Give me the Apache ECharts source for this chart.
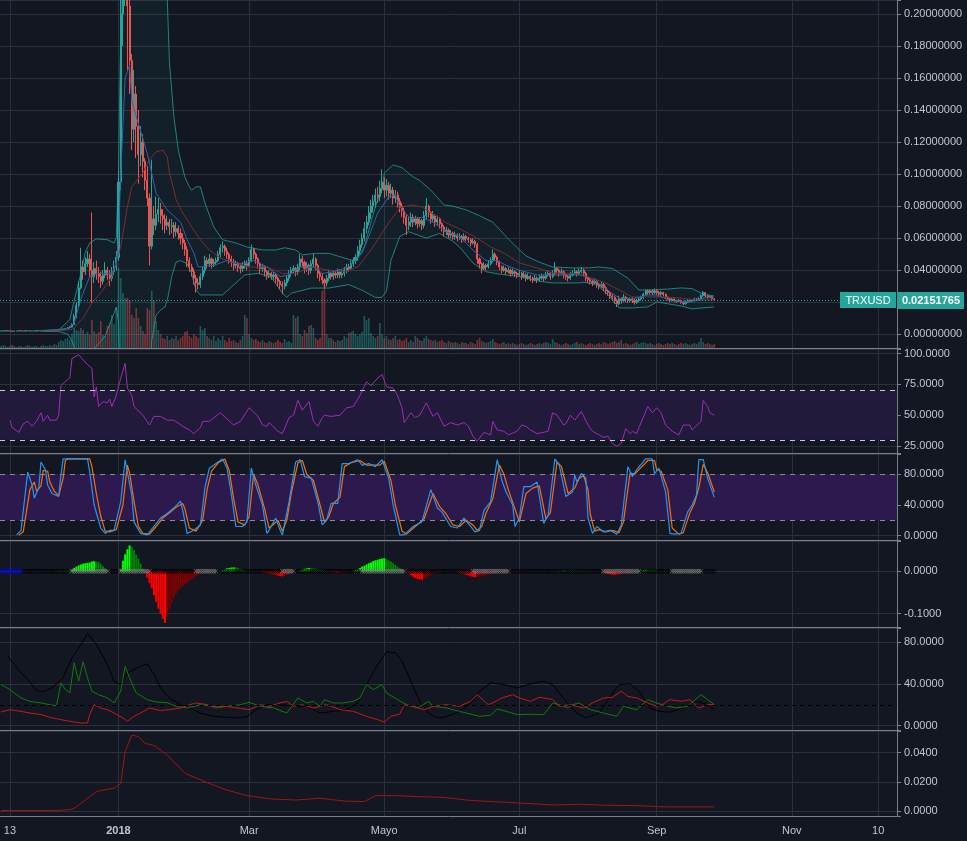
<!DOCTYPE html>
<html><head><meta charset="utf-8">
<script src="https://cdn.jsdelivr.net/npm/echarts/dist/echarts.min.js"></script>
<style>html,body{margin:0;padding:0;background:#131722;}#chart{width:967px;height:841px;}</style>
</head><body><div id="chart"></div>
<script>
// ---------- categories / tick labels ----------
const startDate = [2017, 10, 9];   // 2017-11-09 (UTC, month 0-based)
const dayCount = 405;              // through 2018-12-18
const tickLabels = {'2017-11-13':'13','2018-01-01':'2018','2018-03-01':'Mar','2018-05-01':'Mayo','2018-07-01':'Jul','2018-09-01':'Sep','2018-11-01':'Nov','2018-12-10':'10'};
const symbolName = 'TRXUSD';
const lastPrice = 0.02151765;
const firstOpen = 0.0020;

// ---------- daily price (TRXUSD) ----------
const closes = [
0.0020,0.0021,0.0021,0.0020,0.0020,0.0019,0.0020,0.0020,0.0021,0.0020,
0.0020,0.0021,0.0021,0.0020,0.0020,0.0020,0.0021,0.0021,0.0020,0.0020,
0.0021,0.0022,0.0022,0.0023,0.0023,0.0022,0.0024,0.0028,0.0031,0.0035,
0.0040,0.0045,0.0060,0.0110,0.0180,0.0290,0.0420,0.0390,0.0440,0.0470,
0.0400,0.0360,0.0410,0.0380,0.0360,0.0330,0.0370,0.0400,0.0370,0.0350,
0.0390,0.0420,0.0480,0.0950,0.2000,0.2320,0.2450,0.2050,0.1710,0.1280,
0.1500,0.1300,0.1120,0.1200,0.1080,0.0960,0.0850,0.0550,0.0720,0.0680,
0.0750,0.0780,0.0740,0.0720,0.0680,0.0700,0.0670,0.0680,0.0640,0.0660,
0.0630,0.0600,0.0570,0.0530,0.0460,0.0420,0.0390,0.0350,0.0320,0.0310,
0.0360,0.0400,0.0460,0.0440,0.0470,0.0440,0.0450,0.0460,0.0500,0.0540,
0.0550,0.0520,0.0500,0.0470,0.0450,0.0430,0.0440,0.0420,0.0410,0.0430,
0.0440,0.0430,0.0460,0.0530,0.0500,0.0470,0.0440,0.0410,0.0420,0.0390,
0.0370,0.0380,0.0360,0.0370,0.0350,0.0330,0.0310,0.0300,0.0320,0.0350,
0.0380,0.0400,0.0410,0.0390,0.0420,0.0470,0.0450,0.0410,0.0430,0.0400,
0.0440,0.0470,0.0430,0.0380,0.0360,0.0340,0.0320,0.0350,0.0380,0.0360,
0.0380,0.0370,0.0390,0.0370,0.0380,0.0400,0.0420,0.0410,0.0440,0.0460,
0.0480,0.0520,0.0560,0.0600,0.0660,0.0700,0.0760,0.0800,0.0830,0.0870,
0.0860,0.0910,0.0950,0.0900,0.0930,0.0880,0.0900,0.0850,0.0870,0.0830,
0.0800,0.0770,0.0730,0.0680,0.0700,0.0730,0.0700,0.0720,0.0690,0.0710,
0.0680,0.0740,0.0800,0.0760,0.0720,0.0740,0.0700,0.0720,0.0690,0.0670,
0.0640,0.0650,0.0620,0.0630,0.0610,0.0620,0.0600,0.0610,0.0590,0.0610,
0.0600,0.0590,0.0570,0.0580,0.0560,0.0470,0.0440,0.0410,0.0430,0.0420,
0.0440,0.0460,0.0500,0.0480,0.0450,0.0420,0.0400,0.0410,0.0390,0.0400,
0.0380,0.0390,0.0380,0.0370,0.0380,0.0360,0.0370,0.0350,0.0360,0.0350,
0.0340,0.0350,0.0340,0.0350,0.0360,0.0350,0.0370,0.0380,0.0360,0.0380,
0.0410,0.0400,0.0380,0.0390,0.0370,0.0360,0.0350,0.0370,0.0380,0.0390,
0.0380,0.0390,0.0400,0.0380,0.0350,0.0340,0.0330,0.0320,0.0330,0.0310,
0.0300,0.0310,0.0290,0.0270,0.0260,0.0240,0.0230,0.0210,0.0190,0.0220,
0.0210,0.0230,0.0220,0.0210,0.0220,0.0210,0.0200,0.0210,0.0220,0.0230,
0.0250,0.0270,0.0260,0.0270,0.0260,0.0270,0.0260,0.0250,0.0260,0.0250,
0.0230,0.0220,0.0210,0.0220,0.0210,0.0205,0.0210,0.0200,0.0190,0.0200,
0.0210,0.0205,0.0210,0.0220,0.0215,0.0220,0.0240,0.0260,0.0240,0.0230,
0.0235,0.0220,0.02151765];
const highs = [
.0021,.0022,.0022,.0022,.0021,.0021,.0021,.0021,.0022,.0022,
.0021,.0022,.0022,.0022,.0021,.0021,.0022,.0022,.0022,.0021,
.0022,.0023,.0024,.0024,.0025,.0024,.0026,.0030,.0034,.0038,
.0045,.0052,.0068,.0125,.0200,.0330,.0540,.0460,.0480,.0520,
.0500,.0760,.0450,.0460,.0420,.0390,.0400,.0450,.0420,.0400,
.0420,.0460,.0520,.1020,.2200,.3000,.2700,.2550,.2150,.1750,
.1650,.1550,.1400,.1300,.1250,.1100,.1050,.0880,.1090,.0800,
.0860,.0850,.0820,.0780,.0750,.0740,.0720,.0720,.0700,.0700,
.0680,.0660,.0630,.0590,.0550,.0480,.0440,.0410,.0370,.0350,
.0380,.0420,.0490,.0480,.0500,.0480,.0470,.0480,.0520,.0560,
.0580,.0560,.0540,.0510,.0490,.0470,.0460,.0450,.0440,.0450,
.0460,.0460,.0480,.0560,.0540,.0510,.0480,.0450,.0440,.0430,
.0400,.0400,.0390,.0390,.0380,.0360,.0340,.0330,.0340,.0370,
.0400,.0420,.0430,.0420,.0440,.0500,.0490,.0460,.0450,.0440,
.0460,.0500,.0480,.0440,.0400,.0380,.0350,.0370,.0400,.0390,
.0400,.0390,.0410,.0400,.0400,.0420,.0440,.0440,.0460,.0480,
.0500,.0550,.0590,.0630,.0700,.0740,.0800,.0840,.0870,.0910,
.0920,.0960,.1030,.0980,.0970,.0950,.0940,.0920,.0900,.0890,
.0850,.0820,.0790,.0750,.0730,.0760,.0750,.0740,.0730,.0730,
.0720,.0770,.0850,.0810,.0770,.0770,.0750,.0740,.0730,.0700,
.0680,.0670,.0660,.0650,.0640,.0640,.0630,.0630,.0620,.0630,
.0620,.0610,.0600,.0600,.0590,.0570,.0480,.0450,.0450,.0440,
.0460,.0480,.0530,.0510,.0490,.0460,.0430,.0430,.0420,.0420,
.0410,.0410,.0400,.0390,.0400,.0390,.0390,.0380,.0380,.0370,
.0360,.0370,.0360,.0370,.0380,.0370,.0390,.0400,.0390,.0400,
.0450,.0420,.0410,.0410,.0400,.0380,.0370,.0390,.0400,.0410,
.0400,.0410,.0420,.0410,.0390,.0360,.0350,.0340,.0350,.0340,
.0320,.0330,.0320,.0300,.0280,.0270,.0250,.0240,.0220,.0240,
.0230,.0250,.0240,.0230,.0230,.0230,.0220,.0220,.0230,.0240,
.0260,.0280,.0280,.0280,.0280,.0285,.0280,.0270,.0270,.0265,
.0255,.0235,.0225,.0230,.0225,.0215,.0220,.0215,.0205,.0210,
.0220,.0215,.0220,.0228,.0225,.0230,.0250,.0270,.0262,.0245,
.0242,.0238,.0225];
const lows = [
.0019,.0019,.0020,.0019,.0019,.0018,.0019,.0019,.0020,.0019,
.0019,.0020,.0020,.0019,.0019,.0019,.0020,.0020,.0019,.0019,
.0020,.0020,.0021,.0021,.0022,.0021,.0021,.0023,.0027,.0030,
.0033,.0038,.0043,.0058,.0100,.0170,.0280,.0340,.0370,.0420,
.0360,.0195,.0320,.0340,.0320,.0290,.0310,.0350,.0340,.0300,
.0330,.0370,.0400,.0460,.0900,.1800,.2050,.1650,.1500,.1150,
.1200,.1100,.0940,.1050,.0980,.0900,.0800,.0430,.0530,.0620,
.0650,.0700,.0690,.0650,.0630,.0650,.0620,.0630,.0600,.0610,
.0590,.0560,.0530,.0490,.0420,.0390,.0360,.0310,.0260,.0280,
.0290,.0340,.0380,.0410,.0420,.0410,.0420,.0430,.0450,.0480,
.0510,.0490,.0470,.0440,.0420,.0400,.0410,.0390,.0380,.0390,
.0410,.0400,.0420,.0450,.0470,.0440,.0410,.0380,.0390,.0360,
.0340,.0350,.0340,.0340,.0320,.0300,.0280,.0250,.0280,.0300,
.0330,.0360,.0380,.0360,.0370,.0400,.0420,.0380,.0390,.0370,
.0380,.0420,.0400,.0350,.0330,.0310,.0290,.0300,.0330,.0340,
.0340,.0350,.0350,.0350,.0350,.0360,.0380,.0390,.0400,.0420,
.0440,.0460,.0500,.0540,.0580,.0630,.0680,.0720,.0760,.0790,
.0820,.0830,.0880,.0850,.0860,.0840,.0850,.0810,.0820,.0790,
.0760,.0730,.0690,.0620,.0650,.0670,.0670,.0680,.0660,.0670,
.0650,.0660,.0720,.0730,.0690,.0700,.0670,.0680,.0660,.0640,
.0610,.0620,.0600,.0600,.0590,.0590,.0580,.0590,.0570,.0580,
.0580,.0570,.0550,.0560,.0540,.0440,.0410,.0380,.0400,.0400,
.0410,.0430,.0450,.0460,.0430,.0400,.0380,.0390,.0370,.0380,
.0360,.0370,.0360,.0350,.0360,.0340,.0350,.0330,.0340,.0330,
.0320,.0330,.0320,.0330,.0340,.0330,.0340,.0360,.0340,.0350,
.0370,.0380,.0360,.0370,.0350,.0340,.0330,.0340,.0360,.0370,
.0360,.0370,.0380,.0360,.0330,.0320,.0310,.0300,.0310,.0290,
.0280,.0290,.0270,.0250,.0240,.0220,.0210,.0190,.0170,.0180,
.0190,.0200,.0200,.0195,.0200,.0195,.0185,.0190,.0200,.0210,
.0220,.0240,.0245,.0250,.0245,.0250,.0245,.0235,.0240,.0235,
.0220,.0210,.0200,.0205,.0200,.0195,.0200,.0190,.0182,.0185,
.0195,.0198,.0200,.0205,.0208,.0210,.0215,.0235,.0232,.0222,
.0225,.0215,.0212];
const volumes = [
2,3,2,1,2,3,2,1,2,2, 1,2,3,2,1,2,2,1,2,3, 2,2,3,2,4,3,6,8,7,9,
10,8,14,20,18,17,20,18,14,16, 13,28,17,14,16,27,13,12,22,25, 33,24,40,80,70,55,50,50,48,33,
30,40,30,22,17,14,40,38,57,47, 27,18,14,10,9,12,8,10,9,12, 8,10,12,16,17,12,10,14,12,10,
22,18,20,12,10,8,12,7,10,8, 12,8,6,10,7,8,6,5,8,12, 33,30,14,10,8,9,7,6,8,6,
5,7,6,5,6,8,6,5,9,6, 7,5,33,30,32,14,12,18,15,22, 23,20,10,8,10,57,63,14,10,10,
8,6,8,7,8,12,10,15,16,17, 14,12,14,16,32,28,30,15,12,10, 12,25,14,10,12,9,8,10,12,8,
9,7,8,10,6,8,6,12,10,8, 7,10,12,9,8,7,8,6,7,8, 6,5,7,6,5,6,5,4,6,5,
5,4,6,5,4,8,10,7,6,5, 6,7,9,6,5,4,5,6,4,5, 4,5,4,3,4,5,4,3,4,5,
4,3,4,5,4,5,6,5,4,9, 6,5,4,3,4,5,4,3,4,5, 6,4,5,4,3,4,5,4,3,4,
5,4,6,5,4,5,6,7,5,6, 8,4,5,4,3,4,5,6,4,5, 6,5,4,5,4,3,4,5,4,3,
4,5,4,5,4,3,4,5,4,5, 4,3,4,5,4,6,10,6,4,5, 4,3,4];

// ---------- overlays: [dayIndex, value] ----------
const bbUpper = [[19,.0024],[26,.0027],[31,.009],[33,.021],[36,.038],[38,.051],[40,.057],[43,.0595],[48,.059],[51,.057],[52,.060],[53,.10],[54,.19],[55,.28],[56,.36],[58,.40],[62,.43],[66,.44],[70,.40],[73,.30],[75,.21],[76,.17],[78,.136],[80,.115],[83,.098],[85,.092],[86,.090],[88,.092],[90,.092],[92,.082],[96,.067],[100,.059],[106,.057],[111,.0545],[118,.0526],[124,.0526],[128,.054],[133,.0526],[136,.0495],[142,.0505],[148,.0505],[154,.048],[159,.046],[161,.0475],[164,.0545],[168,.075],[170,.084],[172,.090],[173,.1007],[177,.1058],[181,.104],[186,.0983],[189,.096],[194,.090],[200,.0807],[204,.080],[210,.0776],[216,.074],[222,.070],[228,.061],[233,.054],[237,.0489],[243,.045],[249,.042],[258,.0414],[265,.0414],[270,.042],[276,.041],[283,.035],[288,.0276],[293,.0276],[301,.0282],[307,.0289],[312,.0285],[317,.025],[322,.0239]];
const bbLower = [[19,.0018],[26,.0017],[30,.000],[32,-.004],[34,-.012],[36,-.016],[40,-.012],[44,-.006],[47,-.001],[49,.006],[51,.013],[52,.017],[53,.008],[54,-.04],[56,-.12],[60,-.17],[64,-.15],[66,-.08],[67,-.03],[68,-.004],[70,.012],[72,.015],[74,.017],[75,.021],[76,.028],[77,.036],[79,.045],[81,.046],[84,.044],[86,.038],[88,.0276],[90,.0245],[92,.0245],[100,.0245],[110,.037],[116,.038],[122,.0355],[127,.0256],[129,.023],[131,.0256],[140,.0288],[148,.0288],[157,.031],[163,.0274],[169,.023],[172,.023],[174,.027],[176,.046],[180,.061],[184,.064],[188,.062],[192,.060],[198,.063],[204,.058],[207,.0545],[213,.0445],[219,.039],[225,.0375],[234,.036],[242,.0333],[249,.032],[261,.032],[263,.0325],[269,.031],[275,.0233],[279,.0164],[285,.0164],[292,.017],[296,.0201],[301,.019],[307,.0176],[312,.0158],[317,.0165],[322,.0170]];
const bbBasis = [[19,.0021],[26,.0022],[32,.003],[37,.010],[41,.0195],[46,.0276],[50,.036],[54,.0545],[57,.0795],[59,.092],[64,.1007],[67,.109],[70,.114],[73,.115],[75,.111],[76,.1007],[78,.090],[79,.084],[82,.0757],[87,.0651],[88,.063],[90,.0589],[94,.0526],[99,.0476],[102,.046],[105,.0445],[112,.042],[120,.042],[127,.038],[133,.038],[140,.042],[148,.040],[155,.039],[161,.042],[166,.0507],[170,.0589],[175,.0695],[180,.0789],[185,.0807],[190,.0795],[197,.0733],[201,.0695],[208,.0651],[215,.060],[221,.0545],[227,.0507],[234,.0445],[242,.0414],[249,.0383],[258,.038],[264,.036],[272,.0326],[279,.0276],[285,.0233],[292,.0233],[299,.0233],[306,.0226],[314,.0214],[322,.0215]];
const emaFast = [[19,.0021],[30,.0035],[33,.007],[36,.022],[40,.036],[44,.038],[50,.038],[52,.043],[53,.060],[54,.100],[56,.160],[58,.168],[59,.146],[61,.136],[66,.113],[70,.088],[75,.0776],[81,.070],[84,.059],[87,.0507],[89,.042],[90,.042],[96,.043],[102,.046],[108,.044],[114,.046],[120,.042],[126,.036],[130,.037],[135,.042],[141,.042],[145,.038],[150,.039],[157,.042],[163,.0507],[166,.061],[170,.0757],[175,.0858],[178,.087],[180,.0795],[185,.072],[190,.073],[195,.070],[201,.064],[207,.061],[213,.0526],[219,.046],[224,.046],[228,.043],[234,.040],[242,.037],[249,.037],[257,.037],[263,.037],[269,.0326],[275,.0264],[279,.0226],[285,.022],[292,.0245],[296,.0245],[302,.021],[308,.0201],[314,.021],[319,.0233],[322,.0225]];

// ---------- RSI ----------
const rsi = [[4,46],[5,40],[8,36],[10,43],[12,45],[14,41],[16,45],[18,52],[19,45],[21,50],[22,46],[25,46],[26,50],[27,74],[30,79],[31,80],[32,96],[35,99],[37,95],[39,91],[41,88],[42,65],[43,73],[44,57],[46,61],[48,60],[49,63],[50,57],[52,66],[54,80],[56,92],[57,72],[59,66],[60,57],[64,50],[67,42],[69,49],[72,49],[75,46],[78,46],[82,41],[85,38],[87,35],[90,40],[91,45],[94,45],[99,52],[102,47],[105,42],[108,45],[112,56],[116,49],[118,42],[120,41],[121,44],[125,37],[127,35],[130,48],[132,50],[134,62],[136,54],[139,61],[141,45],[143,41],[145,48],[146,50],[149,49],[153,50],[156,56],[159,57],[162,66],[165,77],[167,74],[170,80],[172,83],[174,73],[177,72],[179,66],[181,56],[182,44],[185,52],[187,48],[189,50],[192,60],[195,49],[197,52],[200,41],[203,44],[206,42],[209,44],[211,41],[213,33],[215,29],[218,36],[221,34],[222,45],[224,38],[227,37],[229,34],[233,37],[235,42],[237,41],[239,38],[242,35],[247,37],[249,52],[251,50],[254,42],[255,43],[257,50],[259,46],[262,53],[265,42],[267,37],[270,34],[272,32],[274,33],[276,27],[278,25],[280,27],[282,39],[284,35],[285,37],[287,35],[288,40],[292,57],[294,52],[296,56],[298,52],[300,42],[303,37],[306,34],[308,42],[311,42],[312,38],[316,45],[317,62],[319,57],[320,52],[322,50]];
const rsiBand = [30, 70];

// ---------- Stoch RSI ----------
const stochK = [[7,1],[9,7],[12,83],[14,66],[15,49],[17,62],[18,96],[20,86],[21,66],[23,55],[26,51],[27,79],[28,100],[39,100],[40,83],[42,40],[45,10],[47,3],[49,7],[51,7],[54,44],[56,99],[57,83],[59,53],[60,18],[63,3],[66,1],[69,12],[72,23],[75,29],[78,36],[81,45],[82,33],[84,3],[87,7],[90,14],[92,62],[94,88],[97,94],[100,100],[102,88],[104,53],[106,12],[109,12],[111,18],[113,88],[115,66],[118,40],[120,3],[121,7],[124,23],[126,7],[127,1],[130,44],[133,96],[135,99],[137,77],[140,75],[143,44],[145,14],[147,20],[149,42],[152,42],[154,94],[157,94],[161,99],[163,92],[166,94],[169,90],[172,99],[175,75],[177,40],[180,1],[182,1],[186,12],[190,18],[194,60],[197,36],[199,31],[203,12],[206,10],[209,23],[212,12],[214,5],[216,7],[218,33],[221,44],[224,99],[226,73],[228,57],[231,40],[232,12],[234,23],[236,64],[239,64],[242,70],[245,16],[247,27],[250,100],[252,92],[255,51],[258,57],[259,79],[260,70],[262,81],[264,75],[265,23],[267,3],[269,12],[272,5],[275,7],[278,2],[280,14],[283,90],[285,77],[287,86],[291,100],[294,100],[295,81],[297,88],[300,57],[302,3],[304,2],[307,3],[310,31],[312,40],[314,53],[315,99],[317,99],[319,75],[322,50]];
const stochD = [[8,1],[10,5],[13,60],[15,70],[16,58],[18,65],[19,85],[21,84],[22,70],[24,58],[26,52],[28,75],[29,98],[30,100],[40,100],[41,90],[43,55],[45,25],[47,6],[49,5],[52,8],[55,40],[57,92],[58,82],[60,45],[62,12],[64,3],[67,2],[70,12],[73,23],[76,30],[79,37],[82,42],[83,35],[85,10],[88,6],[91,20],[93,60],[95,84],[98,95],[101,100],[103,85],[105,48],[107,18],[110,14],[112,25],[114,80],[116,66],[119,35],[121,10],[123,15],[125,20],[127,6],[129,20],[131,55],[134,95],[136,98],[138,80],[141,72],[144,40],[146,18],[148,25],[150,42],[153,50],[155,90],[158,95],[162,98],[165,92],[168,92],[171,92],[173,97],[176,72],[178,40],[181,6],[183,2],[187,12],[191,22],[195,55],[198,38],[201,28],[204,14],[207,12],[210,20],[213,14],[215,7],[217,12],[219,30],[222,48],[225,92],[227,80],[229,60],[232,35],[234,18],[237,55],[240,62],[243,65],[246,22],[248,30],[251,96],[253,90],[256,55],[259,62],[261,75],[263,78],[265,60],[266,28],[268,6],[270,8],[273,5],[276,7],[279,4],[281,18],[284,82],[286,80],[288,86],[292,98],[295,98],[296,86],[298,84],[301,60],[303,10],[306,2],[308,4],[311,30],[313,42],[315,62],[317,93],[319,82],[322,57]];
const stochBand = [20, 80];

// ---------- Squeeze momentum: [startIndex, daily values] ----------
const sqzSegments = [
 [26,[.0005,.001,.001,.001,.0015]],
 [31,[.002,.005,.008,.011,.014,.016,.018,.019,.020,.021,.023,.024,.023,.022,.018,.012,.007,.003]],
 [53,[.001,.006,.025,.040,.052,.061,.058,.050,.040,.030,.018,.006]],
 [65,[-.003,-.015,-.028,-.040,-.056,-.072,-.088,-.100,-.112,-.122,-.108,-.090,-.075,-.062,-.052,-.045,-.040,-.035,-.030,-.027,-.023,-.019,-.015,-.011,-.007,-.004,-.002,-.001]],
 [99,[.001,.003,.005,.007,.008,.009,.0094,.009,.008,.006,.004,.002,.001]],
 [112,[-.001,-.001,-.001,-.001,-.001]],
 [117,[-.001,-.002,-.003,-.004,-.005,-.006,-.007,-.008,-.010,-.011,-.012,-.011,-.009,-.006,-.003,-.001]],
 [135,[.002,.004,.006,.007,.008,.008,.007,.006,.005,.004,.003,.002,.001]],
 [149,[-.001,-.002,-.003,-.004,-.004,-.004,-.003,-.003,-.002,-.001]],
 [159,[.001,.003,.005,.008,.011,.013,.016,.019,.021,.024,.026,.027,.029,.030,.031,.029,.026,.023,.019,.015,.011,.007,.004,.001]],
 [183,[-.002,-.005,-.009,-.013,-.016,-.018,-.019,-.0197,-.018,-.015,-.012,-.009,-.006,-.004,-.002]],
 [198,[-.001,-.001,-.001,-.001,-.001,-.001,-.001,-.001]],
 [206,[-.002,-.004,-.005,-.006,-.008,-.010,-.012,-.013,-.014,-.014,-.013,-.012,-.010,-.009,-.007,-.006,-.004,-.003,-.002]],
 [225,[-.001,-.001,-.0015,-.0015,-.001,-.001,-.001,-.001,-.0015,-.001,-.001,-.001,-.001,-.0008,-.0008,-.0006,-.0005,-.0005]],
 [252,[.001,.001,.002,.002,.002,.002,.002,.002,.002,.001,.001,.001,.001,.001,.001]],
 [271,[-.001,-.002,-.004,-.006,-.007,-.008,-.009,-.009,-.008,-.007,-.005,-.004,-.003,-.002,-.001]],
 [288,[.001,.002,.003,.004,.004,.004,.003,.003,.002,.001]],
 [300,[.0005,.0005,.0006,.0006,.0006,.0007,.0007,.0006,.0006,.0005,.0005,.0005,.0006,.0006,.0007,.0008,.0008,.0008,.0007,.0007,.0006,.0006,.0005]]
];
const sqzGrayRanges = [[32,48],[54,67],[88,97],[127,132],[163,182],[213,229],[272,288],[303,316]];
const sqzBlueRanges = [[0,9]];

// ---------- DMI / ADX ----------
const diPlus = [[0,39.3],[4,34.5],[9,26.5],[13,23.3],[18,21.7],[22,20.1],[25,19],[27,40.9],[29,34.5],[31,31.3],[33,60.1],[35,42.5],[37,61.1],[39,45.7],[41,32.9],[44,29.7],[48,26.5],[51,21.7],[54,32.9],[56,56.9],[58,45.7],[61,31.3],[66,24.9],[70,22.7],[75,22],[79,18.5],[84,17],[90,20],[96,18.5],[102,18.5],[108,20],[112,22.4],[117,18.5],[123,17],[129,12.1],[134,26.5],[138,21.7],[141,23.3],[144,18.5],[146,24.9],[150,21.7],[154,21.7],[159,23.3],[162,26.5],[165,39.3],[168,34.5],[172,39.3],[174,31.3],[179,24.9],[183,20.1],[188,17],[193,23.3],[195,18.5],[201,17],[207,13.7],[213,10.6],[216,9],[221,10],[224,16],[228,13.7],[233,10.6],[239,11],[245,10.6],[249,21.7],[252,20],[256,17],[258,20],[261,21.7],[266,15.3],[272,12.1],[278,9],[281,18.5],[287,15.3],[292,24.9],[296,21.7],[301,18.5],[305,17],[310,18.5],[316,29.7],[319,24.9],[322,20.1]];
const diMinus = [[0,13.1],[4,15.3],[9,13.7],[13,12.1],[18,10.6],[22,8],[27,5.8],[31,4.2],[36,2.6],[39,2.6],[40,10.6],[42,20.1],[45,16.9],[48,15.3],[51,12.1],[55,7.4],[57,4.2],[60,9],[63,12.1],[67,16.9],[72,14.5],[76,15.3],[81,16.9],[85,20.1],[88,21.7],[93,20.1],[97,16.9],[102,18.5],[108,16.5],[112,15.3],[117,20.1],[121,18.5],[126,21.7],[129,23.3],[132,18.5],[136,20.1],[141,16.9],[147,20.1],[153,15.3],[159,13.7],[165,9],[170,5.8],[173,3.5],[176,9],[180,11.2],[182,20.1],[186,18.5],[191,15.3],[195,18.5],[201,20.1],[207,18.5],[212,23.3],[215,29.7],[220,20],[224,24],[226,26.5],[231,29.7],[234,26.5],[239,23.3],[243,27.2],[249,25],[252,18.5],[257,20],[260,18.5],[263,17],[267,21.7],[272,26.5],[276,27],[280,32.9],[283,28],[287,26.5],[292,21.7],[296,18.5],[299,20.8],[302,24.9],[307,23.3],[311,24.9],[315,16.9],[319,20.1],[322,20.1]];
const adx = [[3,66.5],[7,55.3],[12,44.1],[16,33.6],[19,32.3],[23,36.1],[28,45.7],[32,64.9],[37,80.9],[39,88.2],[43,77.7],[48,58.5],[51,42.5],[54,39.3],[57,50.5],[60,53.7],[63,56.9],[66,59.2],[69,48.9],[72,36.1],[76,26.5],[81,20.1],[85,16.9],[90,12.1],[96,9],[102,8],[106,7.4],[111,8.5],[115,15.3],[120,20.1],[126,20.1],[132,18.5],[138,18.5],[144,12.1],[150,13.7],[156,15.3],[161,21.7],[165,39.3],[170,58.5],[174,70.7],[178,69.7],[181,61.7],[185,42.5],[189,23.3],[193,12.1],[197,7.4],[201,8.5],[207,13.7],[212,21.7],[216,32.9],[221,40.9],[227,39.3],[233,36.1],[239,40],[245,42.5],[249,39.3],[255,23.3],[260,12.1],[264,7.4],[270,12.1],[275,28.1],[279,39.3],[284,40],[288,32.9],[293,16.9],[297,13.7],[302,13],[308,16.9],[314,23.3],[319,20.1],[322,15.3]];
const dmiLevel = 20;

// ---------- ATR ----------
const atr = [[0,.0005],[26,.0006],[32,.0013],[34,.003],[38,.0077],[43,.0134],[46,.0145],[51,.0157],[54,.019],[56,.0407],[59,.052],[62,.051],[65,.0464],[69,.045],[75,.0384],[83,.0259],[94,.019],[102,.0145],[111,.0107],[122,.0084],[133,.0077],[144,.0089],[155,.007],[164,.0066],[169,.0107],[178,.0107],[189,.010],[200,.0095],[211,.0075],[222,.0066],[236,.0055],[250,.0043],[261,.0048],[273,.0041],[286,.0039],[300,.003],[312,.003],[322,.003]];

// ================= build =================
const dates = [];
(function(){ const d0 = Date.UTC(startDate[0], startDate[1], startDate[2]);
  for (let k = 0; k < dayCount; k++) dates.push(new Date(d0 + k*86400000).toISOString().slice(0,10)); })();

const UP = '#26a69a', DOWN = '#ef5350';
const BG = '#131722', GRID = '#2c303c', SEP = '#7c7f88', LABEL = '#c3c6ce';
const FONT = 'Liberation Sans, Arial, sans-serif';

const opens = closes.map((c,i) => i === 0 ? firstOpen : closes[i-1]);
const candles = closes.map((c,i) => [opens[i], c, lows[i], highs[i]]);
const volItems = volumes.map((v,i) => ({ value: v, itemStyle: { color: closes[i] >= opens[i] ? 'rgba(38,166,154,0.45)' : 'rgba(239,83,80,0.45)' } }));

const sqz = new Array(closes.length).fill(0);
sqzSegments.forEach(([s, vals]) => vals.forEach((v,k) => { sqz[s+k] = v; }));
const sqzItems = sqz.map((v,i) => {
  const p = i > 0 ? sqz[i-1] : 0;
  let col;
  if (v > 0) col = v > p ? '#00ff00' : '#008000';
  else col = v < p ? '#ff0000' : '#800000';
  return { value: v, itemStyle: { color: col } };
});
const inRanges = (i, rs) => rs.some(r => i >= r[0] && i <= r[1]);
const crossItems = closes.map((c,i) => ({ value: [i, 0], itemStyle: { color: inRanges(i, sqzBlueRanges) ? '#0000ff' : inRanges(i, sqzGrayRanges) ? '#808080' : '#000000' } }));

const grids = [
  {top:0, height:348}, {top:0, height:348},
  {top:349, height:104}, {top:454, height:86}, {top:541, height:86},
  {top:628, height:102}, {top:731, height:85}
];
function xAx(gi, extra) {
  return Object.assign({
    type:'category', gridIndex:gi, data:dates, boundaryGap:true,
    axisLine:{show:true, onZero:false, lineStyle:{color:SEP, width:1}}, axisTick:{show:false}, axisLabel:{show:false},
    splitLine:{show:true, alignWithLabel:true, interval:(i,v) => !!tickLabels[v], lineStyle:{color:GRID, width:1}}
  }, extra || {});
}
function yAx(gi, min, max, step, dec, extra) {
  return Object.assign({
    type:'value', gridIndex:gi, position:'right', min:min, max:max, minInterval:step, maxInterval:step,
    axisLine:{show:true, lineStyle:{color:SEP}}, axisTick:{show:true, length:4, lineStyle:{color:SEP}},
    axisLabel:{show:true, color:LABEL, fontSize:11, fontFamily:FONT, margin:7,
      formatter: v => Math.abs(v/step - Math.round(v/step)) > 1e-6 ? '' : (Math.abs(v) < 1e-12 ? 0 : v).toFixed(dec)},
    splitLine:{show:true, lineStyle:{color:GRID, width:1}}
  }, extra || {});
}
const lineS = (name, xi, data, color, width, z, extra) => Object.assign({
  name, type:'line', xAxisIndex:xi, yAxisIndex:xi, data, showSymbol:false, symbol:'none', silent:true,
  lineStyle:{color, width}, z: z || 3, animation:false
}, extra || {});

const option = {
  backgroundColor: BG,
  animation: false,
  grid: grids.map(g => ({left:0, right:70, top:g.top, height:g.height})),
  xAxis: [
    xAx(0), xAx(1, {show:false}), xAx(2), xAx(3), xAx(4), xAx(5),
    xAx(6, {axisLabel:{show:true, interval:(i,v) => !!tickLabels[v], color:LABEL, fontSize:11, fontFamily:FONT, margin:9,
      formatter: v => tickLabels[v] === '2018' ? '{b|2018}' : (tickLabels[v] || ''), rich:{b:{fontWeight:'bold', color:LABEL, fontSize:11, fontFamily:FONT}}}})
  ],
  yAxis: [
    yAx(0, -0.00862, 0.20874, 0.02, 8),
    {type:'value', gridIndex:1, min:0, max:348, show:false, splitLine:{show:false}},
    yAx(2, 19.34, 103.64, 25, 4),
    yAx(3, -5.6, 106.45, 40, 4),
    yAx(4, -0.13136, 0.07145, 0.1, 4),
    yAx(5, -4.11, 93.38, 40, 4),
    yAx(6, -0.00321, 0.05482, 0.02, 4)
  ],
  series: [
    { type:'custom', xAxisIndex:0, yAxisIndex:0, data:[[0,0]], clip:true, silent:true, z:1,
      renderItem: (params, api) => {
        const pts = bbUpper.map(p => api.coord(p)).concat(bbLower.slice().reverse().map(p => api.coord(p)));
        return { type:'polygon', shape:{points:pts}, style:{fill:'rgba(38,166,154,0.06)'} };
      } },
    { type:'bar', xAxisIndex:1, yAxisIndex:1, data:volItems, barWidth:'75%', silent:true, z:1 },
    { type:'candlestick', xAxisIndex:0, yAxisIndex:0, data:candles, barWidth:1.6, silent:true, z:4, clip:true,
      itemStyle:{color:UP, color0:DOWN, borderColor:UP, borderColor0:DOWN, borderWidth:1} },
    lineS('BB upper', 0, bbUpper, 'rgba(38,166,154,0.75)', 1, 5),
    lineS('BB lower', 0, bbLower, 'rgba(38,166,154,0.75)', 1, 5),
    lineS('BB basis', 0, bbBasis, '#7e2b2f', 1, 5),
    lineS('EMA', 0, emaFast, '#2f62a8', 1, 5),
    { type:'custom', xAxisIndex:0, yAxisIndex:0, data:[[closes.length-1, lastPrice]], clip:false, silent:true, z:20,
      renderItem: (params, api) => {
        const cs = params.coordSys; const right = cs.x + cs.width;
        const y = Math.round(api.coord([api.value(0), api.value(1)])[1]) + 0.5;
        return { type:'group', children:[
          { type:'line', shape:{x1:cs.x, y1:y, x2:right, y2:y}, style:{stroke:UP, lineWidth:1, lineDash:[1,2]} },
          { type:'rect', shape:{x:right-57, y:y-8.5, width:56, height:16}, style:{fill:UP} },
          { type:'text', style:{text:symbolName, x:right-29, y:y, align:'center', verticalAlign:'middle', fill:'#ffffff', font:'11px ' + FONT} },
          { type:'rect', shape:{x:right, y:y-8.5, width:67, height:17}, style:{fill:UP} },
          { type:'text', style:{text:lastPrice.toFixed(8), x:right+34, y:y, align:'center', verticalAlign:'middle', fill:'#ffffff', font:'bold 11px ' + FONT} }
        ]};
      } },
    lineS('RSI', 2, rsi, '#9a2fb0', 1, 4, {
      markArea:{silent:true, itemStyle:{color:'#221a3a'}, data:[[{yAxis:rsiBand[0]},{yAxis:rsiBand[1]}]]},
      markLine:{silent:true, symbol:'none', label:{show:false}, lineStyle:{color:'#c9c9d0', type:[5,5], width:1}, data:[{yAxis:rsiBand[1]},{yAxis:rsiBand[0]}]}
    }),
    lineS('%K', 3, stochK, '#2196f3', 1.2, 5, {
      markArea:{silent:true, itemStyle:{color:'#2c1a4e'}, data:[[{yAxis:stochBand[0]},{yAxis:stochBand[1]}]]},
      markLine:{silent:true, symbol:'none', label:{show:false}, lineStyle:{color:'#8a8a96', type:[5,5], width:1}, data:[{yAxis:stochBand[1]},{yAxis:stochBand[0]}]}
    }),
    lineS('%D', 3, stochD, '#ff6d00', 1.2, 4),
    { type:'bar', xAxisIndex:4, yAxisIndex:4, data:sqzItems, barWidth:'90%', silent:true, z:3 },
    { type:'scatter', xAxisIndex:4, yAxisIndex:4, data:crossItems, silent:true, z:4,
      symbol:'path://M0,1L1,0L5,4L9,0L10,1L6,5L10,9L9,10L5,6L1,10L0,9L4,5Z', symbolSize:5 },
    lineS('ADX', 5, adx, '#000000', 1, 3, {
      markLine:{silent:true, symbol:'none', label:{show:false}, lineStyle:{color:'#000000', type:[4,4], width:1}, data:[{yAxis:dmiLevel}]}
    }),
    lineS('+DI', 5, diPlus, '#117a11', 1, 4),
    lineS('-DI', 5, diMinus, '#c41a1a', 1, 4),
    lineS('ATR', 6, atr, '#a01414', 1, 4)
  ]
};
const chart = echarts.init(document.getElementById('chart'), null, {renderer:'canvas'});
chart.setOption(option);
</script>
</body></html>
